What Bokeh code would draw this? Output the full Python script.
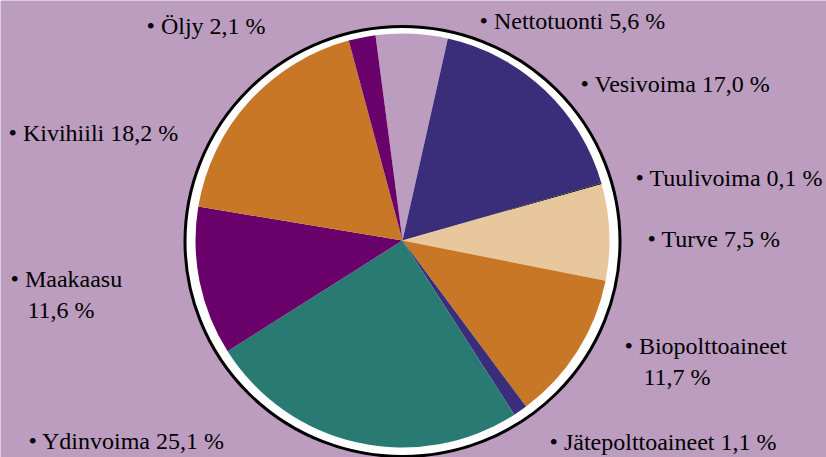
from bokeh.plotting import figure
from bokeh.models import Range1d, ColumnDataSource
from bokeh.core.properties import value
from bokeh.embed import file_html
from bokeh.resources import INLINE
import numpy as np

# ---- data ----
sources = ["Nettotuonti", "Vesivoima", "Tuulivoima", "Turve", "Biopolttoaineet",
           "Jätepolttoaineet", "Ydinvoima", "Maakaasu", "Kivihiili", "Öljy"]
shares = [5.6, 17.0, 0.1, 7.5, 11.7, 1.1, 25.1, 11.6, 18.2, 2.1]
colors = ["#BC9DBF", "#3A2E7A", "#1A1A1A", "#E9C79D", "#C77726",
          "#3A2E7A", "#287A72", "#6A006A", "#C77726", "#6A006A"]

# ---- layout (screen pixels of the 826x457 window) ----
BG = "#BC9DBF"
W, H = 826, 457
# label anchor: bullet left x, baseline y, wrapped?, second-line x
label_x = [479, 580, 635, 647, 624, 549, 28, 10, 8, 146]
label_y = [20, 83, 177, 238, 345, 441, 440, 278, 132, 25]
wrapped = [False, False, False, False, True, False, False, True, False, False]
second_x = [0, 0, 0, 0, 643, 0, 0, 27, 0, 0]
line_gap = 31

cx, cy = 402, 240       # pie centre (screen)
R = 207
start_offset = 7.5      # degrees counter-clockwise of 12 o'clock

def sy(y):
    return H - y

p = figure(width=W, height=H, output_backend="svg",
           toolbar_location=None, x_range=Range1d(0, W),
           y_range=Range1d(0, H), min_border=0)
p.axis.visible = False
p.grid.visible = False
p.outline_line_color = None
p.background_fill_color = BG
p.border_fill_color = BG

# ring
p.ellipse(x=[cx], y=[sy(241)], width=[435], height=[430],
          fill_color="white", line_color="black", line_width=3)

# wedges
fr = np.array(shares) / sum(shares)
c1 = np.cumsum(fr)
c0 = c1 - fr
start = np.radians(90 + start_offset - 360 * c1)
end = np.radians(90 + start_offset - 360 * c0)
src = ColumnDataSource(dict(start=start, end=end, color=colors, name=sources))
p.wedge(x=cx, y=sy(cy), radius=R, start_angle="start", end_angle="end",
        fill_color="color", line_color=None, source=src)

def fmt(v):
    return f"{v:.1f}".replace(".", ",") + " %"

t1, x1, y1, t2, x2, y2 = [], [], [], [], [], []
for i, s in enumerate(sources):
    if wrapped[i]:
        t1.append("• " + s)
        t2.append(fmt(shares[i]))
        x2.append(second_x[i])
        y2.append(sy(label_y[i] + line_gap))
    else:
        t1.append("• " + s + " " + fmt(shares[i]))
    x1.append(label_x[i])
    y1.append(sy(label_y[i]))

p.text(x=x1, y=y1, text=t1, text_font=value("Liberation Serif"),
       text_font_size="24px", text_color="black", text_baseline="alphabetic")
p.text(x=x2, y=y2, text=t2, text_font=value("Liberation Serif"),
       text_font_size="24px", text_color="black", text_baseline="alphabetic")

open("out.html", "w").write(file_html(p, INLINE))
